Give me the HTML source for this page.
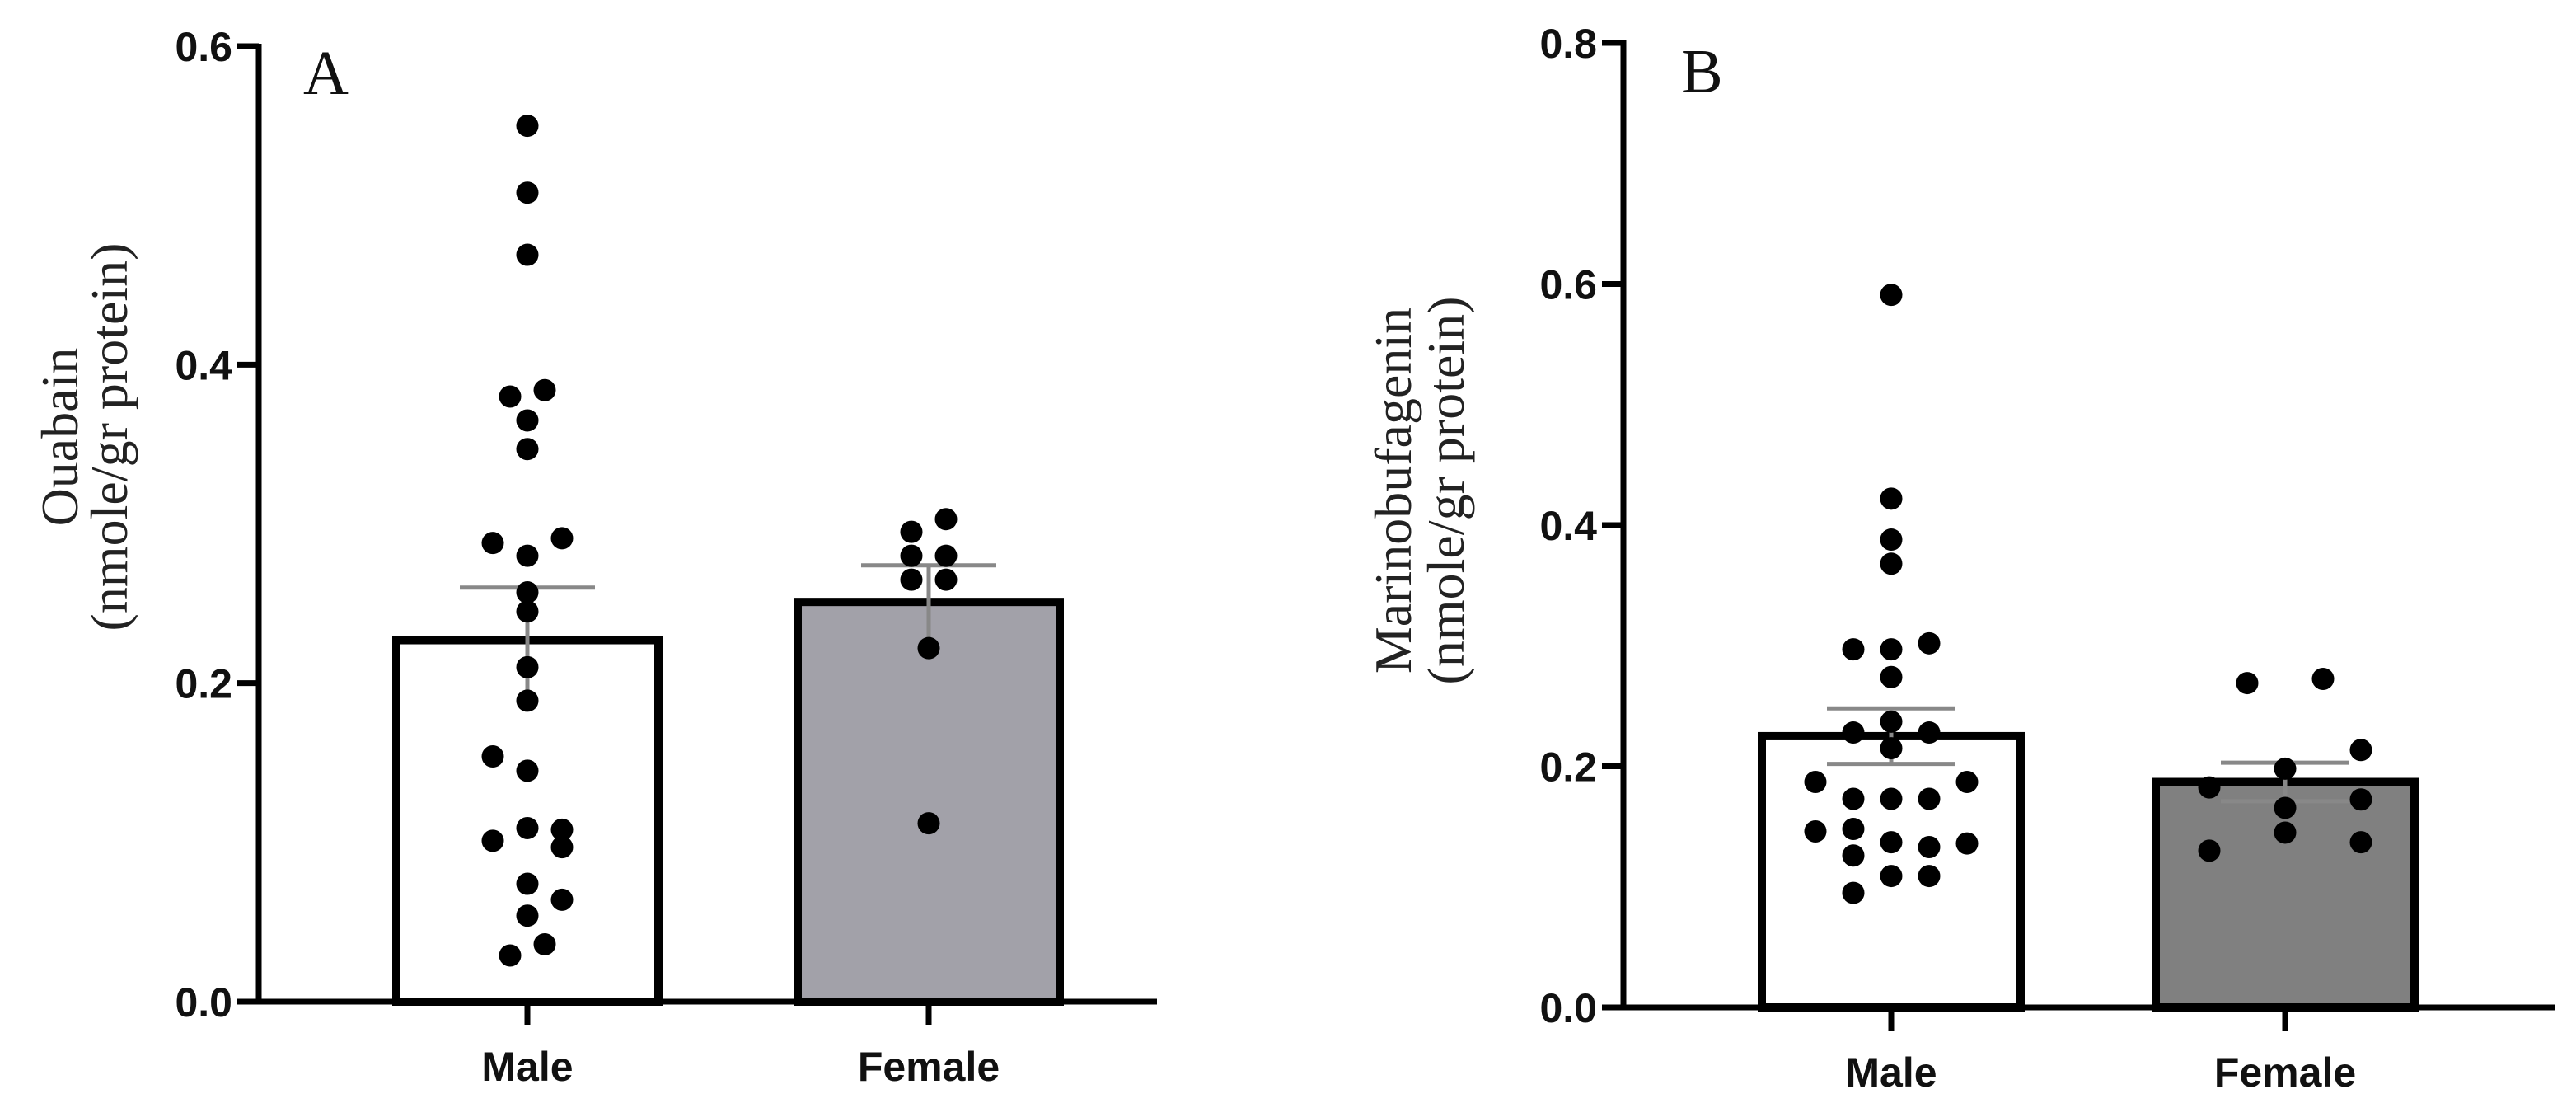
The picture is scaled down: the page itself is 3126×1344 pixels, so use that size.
<!DOCTYPE html>
<html><head><meta charset="utf-8"><style>
html,body{margin:0;padding:0;background:#fff;}
svg{display:block;}
.tick{font-family:"Liberation Sans",sans-serif;font-weight:bold;font-size:50px;fill:#111;}
.ylab{font-family:"Liberation Serif",serif;font-size:64px;fill:#222;}
.pl{font-family:"Liberation Serif",serif;font-size:76px;fill:#111;}
</style></head><body>
<svg id="chart" width="3126" height="1344" viewBox="0 0 3126 1344" xmlns="http://www.w3.org/2000/svg">
<g id="pa"></g>
<g id="pb"></g>
</svg>
<script>
const categories = ["Male", "Female"];
// Panel A (Ouabain)
const aTicks = [0.0, 0.2, 0.4, 0.6];
const aMeans = [0.227, 0.251];
const aSem = [0.033, 0.023];
const aMaleVals = [0.55,0.508,0.469,0.384,0.38,0.365,0.347,0.291,0.288,0.28,0.257,0.245,0.21,0.189,0.154,0.145,0.109,0.108,0.101,0.097,0.074,0.064,0.054,0.036,0.029];
const aMaleOff = [0,0,0,1,-1,0,0,2,-2,0,0,0,0,0,-2,0,0,2,-2,2,0,2,0,1,-1];
const aFemVals = [0.303,0.295,0.28,0.28,0.265,0.265,0.222,0.112];
const aFemOff = [1,-1,-1,1,-1,1,0,0];
// Panel B (Marinobufagenin)
const bTicks = [0.0, 0.2, 0.4, 0.6, 0.8];
const bMeans = [0.225, 0.187];
const bSem = [0.023, 0.016];
const bMaleVals = [0.591,0.422,0.388,0.368,0.302,0.297,0.297,0.274,0.237,0.228,0.228,0.215,0.187,0.187,0.173,0.173,0.173,0.146,0.148,0.137,0.136,0.133,0.126,0.109,0.109,0.095];
const bMaleOff = [0,0,0,0,1,-1,0,0,0,-1,1,0,-2,2,-1,0,1,-2,-1,0,2,1,-1,0,1,-1];
const bFemVals = [0.269,0.2725,0.2135,0.198,0.1825,0.1725,0.1655,0.145,0.137,0.13];
const bFemOff = [-1,1,2,0,-2,2,0,0,2,-2];

const NS = "http://www.w3.org/2000/svg";
function mk(parent, tag, attrs){const e=document.createElementNS(NS,tag);for(const k in attrs)e.setAttribute(k,attrs[k]);parent.appendChild(e);return e;}

function drawPanel(g, cfg){
  const y = v => cfg.y0 - (v - 0) / cfg.yMax * (cfg.y0 - cfg.yTop);
  cfg.means.forEach((m,i)=>{
    const cx = cfg.cx[i];
    const r = mk(g,'rect',{x:cx-cfg.bw/2,y:y(m),width:cfg.bw,height:cfg.y0-y(m),fill:cfg.fills[i],stroke:'#000','stroke-width':10});
    
    
  });
  cfg.means.forEach((m,i)=>{
    const cx = cfg.cx[i];
    const eg = mk(g,'g',{stroke:'#888','stroke-width':5});
    
    
    mk(eg,'line',{x1:cx,x2:cx,y1:y(m-cfg.sem[i]),y2:y(m+cfg.sem[i])});
    mk(eg,'line',{x1:cx-cfg.cap,x2:cx+cfg.cap,y1:y(m+cfg.sem[i]),y2:y(m+cfg.sem[i])});
    if(cfg.lowerCap) mk(eg,'line',{x1:cx-cfg.cap,x2:cx+cfg.cap,y1:y(m-cfg.sem[i]),y2:y(m-cfg.sem[i])});
  });
  [[cfg.maleVals,cfg.maleOff,0],[cfg.femVals,cfg.femOff,1]].forEach(([vals,offs,i])=>{
    vals.forEach((v,j)=>{
      const c = mk(g,'circle',{cx:cfg.cx[i]+offs[j]*cfg.dx,cy:y(v),r:13.5,fill:'#000'});
      
      
    });
  });
  const ax = mk(g,'g',{stroke:'#000','stroke-width':7});
  
  
  mk(ax,'line',{x1:cfg.ax,x2:cfg.ax,y1:y(cfg.yMax)-3,y2:cfg.y0+3});
  mk(ax,'line',{x1:cfg.ax-26,x2:cfg.xEnd,y1:cfg.y0,y2:cfg.y0});
  cfg.ticks.forEach(t=>{
    mk(ax,'line',{x1:cfg.ax-26,x2:cfg.ax,y1:y(t),y2:y(t)});
    const tx = mk(g,'text',{x:cfg.ax-32,y:y(t)+18,'text-anchor':'end',class:'tick'});
    tx.textContent = t.toFixed(1);
    
    
  });
  categories.forEach((c,i)=>{
    mk(ax,'line',{x1:cfg.cx[i],x2:cfg.cx[i],y1:cfg.y0,y2:cfg.y0+28});
    const tx = mk(g,'text',{x:cfg.cx[i],y:cfg.y0+96,'text-anchor':'middle',class:'tick'});
    tx.textContent = c;
    
    
  });
  cfg.ylab.forEach((s,k)=>{
    const tx = mk(g,'text',{x:0,y:0,'text-anchor':'middle',class:'ylab',transform:`translate(${cfg.ylx[k]},${cfg.ylc}) rotate(-90)`});
    tx.textContent = s;
    
    
  });
  const pl = mk(g,'text',{x:cfg.plx,y:cfg.ply,class:'pl'});
  pl.textContent = cfg.letter;
  
  
}

drawPanel(document.getElementById('pa'),{
  y0:1215,yTop:56,yMax:0.6,ax:314,xEnd:1404,cx:[640,1127],bw:318,fills:['#fff','#a2a1a9'],
  means:aMeans,sem:aSem,cap:82,lowerCap:false,ticks:aTicks,dx:21,
  maleVals:aMaleVals,maleOff:aMaleOff,femVals:aFemVals,femOff:aFemOff,
  ylab:['Ouabain','(nmole/gr protein)'],ylx:[94,154],ylc:530,plx:368,ply:114,letter:'A'
});
drawPanel(document.getElementById('pb'),{
  y0:1222,yTop:52,yMax:0.8,ax:1970,xEnd:3100,cx:[2295,2773],bw:314,fills:['#fff','#808080'],
  means:bMeans,sem:bSem,cap:78,lowerCap:true,ticks:bTicks,dx:46,
  maleVals:bMaleVals,maleOff:bMaleOff,femVals:bFemVals,femOff:bFemOff,
  ylab:['Marinobufagenin','(nmole/gr protein)'],ylx:[1712,1776],ylc:595,plx:2040,ply:112,letter:'B'
});
</script>
</body></html>
